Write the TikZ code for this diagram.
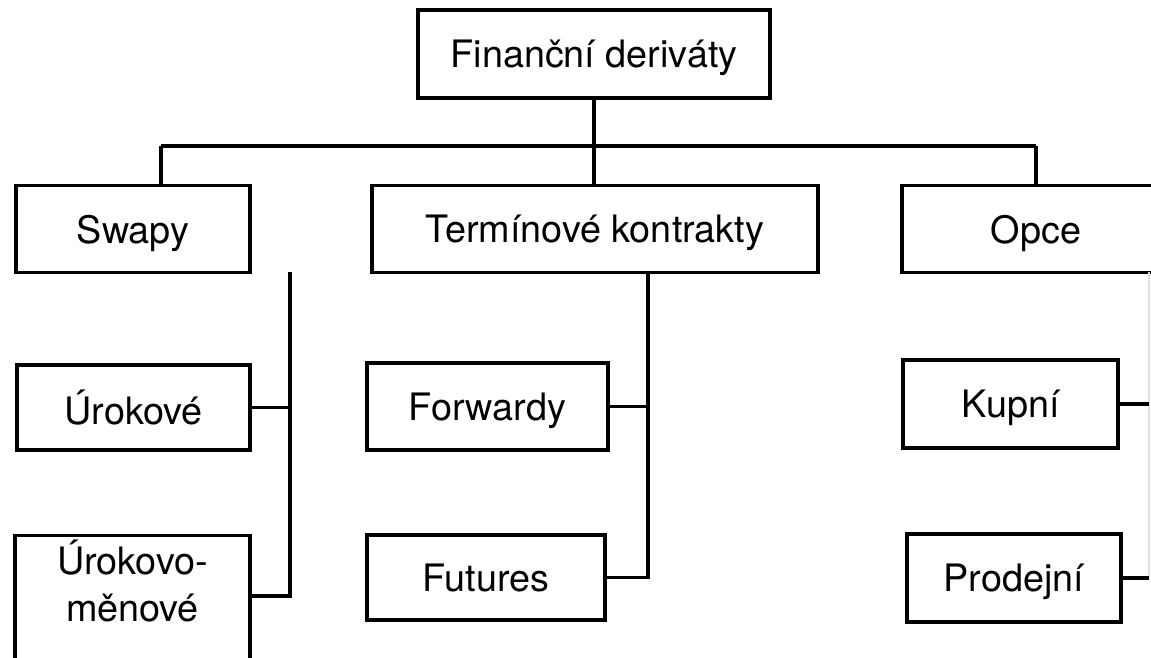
\documentclass[tikz,border=0pt]{standalone}
\usepackage{fontspec}
\setmainfont{TeX Gyre Heros}
\usepackage{tikz}
\usetikzlibrary{calc}
\tikzset{
  box/.style={draw=black, line width=1.9pt, inner sep=0pt, align=center,
    font=\fontsize{21.5}{26.5}\selectfont, text depth=-1.5pt, minimum height=17.4mm},
  twoline/.style={anchor=north, text height=48.8pt, text depth=30pt, minimum height=0pt},
  link/.style={draw=black, line width=1.9pt},
  faint/.style={draw=black!12, line width=0.8pt}
}

\begin{document}
\begin{tikzpicture}[x=0.2mm, y=-0.2mm]
  \useasboundingbox (0,0) rectangle (1151,657);
  % top level
  \node[box, minimum width=70.4mm, minimum height=17.6mm] (root) at (594,54) {Finanční deriváty};
  \node[box, minimum width=46.8mm] (swapy) at (133,229) {Swapy};
  \node[box, minimum width=89.2mm] (term) at (595,229) {Termínové kontrakty};
  \node[box, minimum width=53.6mm] (opce) at (1036,229) {Opce};
  \coordinate (bus) at (594,146);
  \coordinate (sdrop) at (161,146);
  \draw[link] (root.south) -- (root.south |- term.north);
  \draw[link] (sdrop) -- (opce.north |- bus);
  \draw[link] (sdrop) -- (sdrop |- swapy.north);
  \draw[link] (opce.north |- bus) -- (opce.north);

  % swapy
  \node[box, minimum width=46.6mm, minimum height=17mm] (urok) at (133.5,407.5) {Úrokové};
  \node[box, twoline, minimum width=47mm] (urmen) at (132.5,534) {Úrokovo-\\měnové};
  \coordinate (sbus) at (290,272);
  \draw[link] (sbus) -- (sbus |- 0,596) -- (urmen.east |- 0,596);
  \draw[link] (urok.east) -- (urok.east -| sbus);

  % terminove kontrakty
  \node[box, minimum width=48.2mm, minimum height=17.4mm] (fwd) at (487.5,406.5) {Forwardy};
  \node[box, minimum width=47.6mm, minimum height=17mm] (fut) at (486,577.5) {Futures};
  \coordinate (tbus) at (648,272);
  \draw[link] (tbus) -- (tbus |- fut.east) -- (fut.east);
  \draw[link] (fwd.east) -- (fwd.east -| tbus);

  % opce
  \node[box, minimum width=43mm, minimum height=17.6mm] (kup) at (1010.5,404) {Kupní};
  \node[box, minimum width=42.8mm, minimum height=17.6mm] (prod) at (1014,578) {Prodejní};
  \coordinate (obus) at (1149,272);
  \draw[faint] (obus) -- (obus |- prod.east);
  \draw[link] (kup.east) -- (kup.east -| obus);
  \draw[link] (prod.east) -- (prod.east -| obus);
\end{tikzpicture}
\end{document}
